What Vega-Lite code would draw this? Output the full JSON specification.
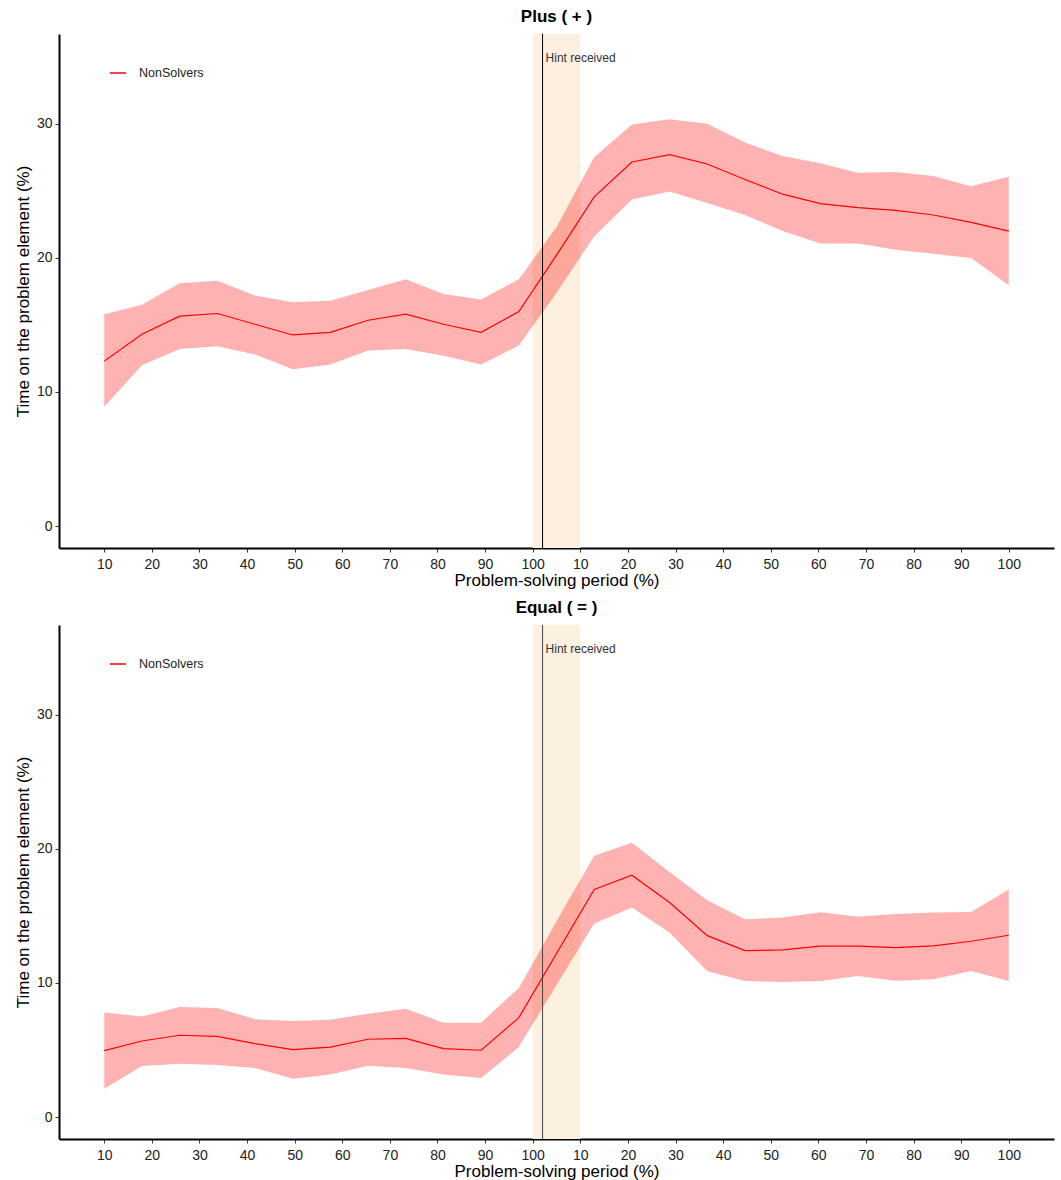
{
  "$schema": "https://vega.github.io/schema/vega-lite/v6.json",
  "padding": {"left": 14, "top": 7, "right": 5, "bottom": 2},
  "spacing": 10,
  "config": {
    "font": "Liberation Sans",
    "view": {"stroke": null},
    "title": {"fontSize": 17, "fontWeight": "bold", "color": "#000000", "offset": 8},
    "axis": {"grid": false, "domainColor": "#000000", "domainWidth": 2, "tickColor": "#333333", "tickSize": 4, "tickWidth": 1, "labelFontSize": 14, "labelColor": "#222222", "titleFontSize": 17, "titleFontWeight": "normal", "titleColor": "#000000", "labelPadding": 3},
    "axisX": {"titlePadding": 1, "labelPadding": 5},
    "axisY": {"titlePadding": 4}
  },
  "datasets": {
    "plus": [
      {"k": 1, "mean": 12.3, "lo": 8.9, "hi": 15.8},
      {"k": 2, "mean": 14.3, "lo": 12.0, "hi": 16.5},
      {"k": 3, "mean": 15.65, "lo": 13.2, "hi": 18.1},
      {"k": 4, "mean": 15.85, "lo": 13.4, "hi": 18.3},
      {"k": 5, "mean": 15.05, "lo": 12.8, "hi": 17.2},
      {"k": 6, "mean": 14.25, "lo": 11.7, "hi": 16.7},
      {"k": 7, "mean": 14.45, "lo": 12.05, "hi": 16.8},
      {"k": 8, "mean": 15.35, "lo": 13.1, "hi": 17.6},
      {"k": 9, "mean": 15.8, "lo": 13.2, "hi": 18.4},
      {"k": 10, "mean": 15.05, "lo": 12.7, "hi": 17.3},
      {"k": 11, "mean": 14.45, "lo": 12.05, "hi": 16.9},
      {"k": 12, "mean": 16.0, "lo": 13.45, "hi": 18.4},
      {"k": 13, "mean": 20.2, "lo": 17.4, "hi": 22.3},
      {"k": 14, "mean": 24.55, "lo": 21.6, "hi": 27.5},
      {"k": 15, "mean": 27.15, "lo": 24.35, "hi": 29.95},
      {"k": 16, "mean": 27.7, "lo": 24.95, "hi": 30.35},
      {"k": 17, "mean": 27.0, "lo": 24.1, "hi": 30.0},
      {"k": 18, "mean": 25.85, "lo": 23.2, "hi": 28.6},
      {"k": 19, "mean": 24.75, "lo": 22.0, "hi": 27.6},
      {"k": 20, "mean": 24.05, "lo": 21.07, "hi": 27.05},
      {"k": 21, "mean": 23.75, "lo": 21.07, "hi": 26.35},
      {"k": 22, "mean": 23.55, "lo": 20.6, "hi": 26.4},
      {"k": 23, "mean": 23.2, "lo": 20.3, "hi": 26.1},
      {"k": 24, "mean": 22.65, "lo": 20.0, "hi": 25.35},
      {"k": 25, "mean": 22.0, "lo": 17.95, "hi": 26.05}
    ],
    "equal": [
      {"k": 1, "mean": 4.95, "lo": 2.1, "hi": 7.8},
      {"k": 2, "mean": 5.67, "lo": 3.8, "hi": 7.5},
      {"k": 3, "mean": 6.1, "lo": 3.98, "hi": 8.2},
      {"k": 4, "mean": 6.02, "lo": 3.88, "hi": 8.13},
      {"k": 5, "mean": 5.47, "lo": 3.66, "hi": 7.3},
      {"k": 6, "mean": 5.02, "lo": 2.86, "hi": 7.16},
      {"k": 7, "mean": 5.22, "lo": 3.18, "hi": 7.26},
      {"k": 8, "mean": 5.8, "lo": 3.83, "hi": 7.7},
      {"k": 9, "mean": 5.87, "lo": 3.66, "hi": 8.08},
      {"k": 10, "mean": 5.1, "lo": 3.18, "hi": 7.04},
      {"k": 11, "mean": 4.98, "lo": 2.91, "hi": 7.04},
      {"k": 12, "mean": 7.41, "lo": 5.22, "hi": 9.63},
      {"k": 13, "mean": 12.2, "lo": 9.85, "hi": 14.6},
      {"k": 14, "mean": 16.97, "lo": 14.43, "hi": 19.48},
      {"k": 15, "mean": 18.03, "lo": 15.62, "hi": 20.45},
      {"k": 16, "mean": 16.0, "lo": 13.76, "hi": 18.28},
      {"k": 17, "mean": 13.53, "lo": 10.87, "hi": 16.17},
      {"k": 18, "mean": 12.41, "lo": 10.15, "hi": 14.75},
      {"k": 19, "mean": 12.46, "lo": 10.07, "hi": 14.88},
      {"k": 20, "mean": 12.74, "lo": 10.15, "hi": 15.27},
      {"k": 21, "mean": 12.74, "lo": 10.52, "hi": 14.93},
      {"k": 22, "mean": 12.64, "lo": 10.17, "hi": 15.15},
      {"k": 23, "mean": 12.76, "lo": 10.27, "hi": 15.25},
      {"k": 24, "mean": 13.11, "lo": 10.9, "hi": 15.3},
      {"k": 25, "mean": 13.56, "lo": 10.15, "hi": 16.97}
    ]
  },
  "resolve": {"scale": {"color": "independent"}, "legend": {"color": "independent"}},
  "vconcat": [
    {
      "title": "Plus ( + )",
      "width": 995,
      "height": 514,
      "layer": [
        {
          "data": {"values": [{}]},
          "mark": {"type": "rect", "color": "#FDF0DF"},
          "encoding": {
            "x": {"datum": 12.368, "type": "quantitative", "scale": {"domain": [-0.2, 26.2], "nice": false, "zero": false}, "title": "Problem-solving period (%)", "axis": {"values": [1, 2.2632, 3.5263, 4.7895, 6.0526, 7.3158, 8.5789, 9.8421, 11.1053, 12.3684, 13.6316, 14.8947, 16.1579, 17.4211, 18.6842, 19.9474, 21.2105, 22.4737, 23.7368, 25], "labelExpr": "((round((datum.value - 1) * 19 / 24) % 10) + 1) * 10"}},
            "x2": {"datum": 13.632}
          }
        },
        {
          "data": {"name": "plus"},
          "mark": {"type": "area", "color": "#FF0000", "opacity": 0.3},
          "encoding": {
            "x": {"field": "k", "type": "quantitative", "title": "Problem-solving period (%)"},
            "y": {"field": "lo", "type": "quantitative", "scale": {"domain": [-1.64, 36.7], "nice": false, "zero": false}, "title": "Time on the problem element (%)", "axis": {"values": [0, 10, 20, 30]}},
            "y2": {"field": "hi"}
          }
        },
        {
          "data": {"name": "plus"},
          "mark": {"type": "line", "strokeWidth": 1.2},
          "encoding": {
            "x": {"field": "k", "type": "quantitative", "title": "Problem-solving period (%)"},
            "y": {"field": "mean", "type": "quantitative", "title": "Time on the problem element (%)"},
            "color": {"datum": "NonSolvers", "type": "nominal", "scale": {"range": ["#FF0000"]}, "legend": {"title": null, "orient": "none", "legendX": 50, "legendY": 30, "symbolType": "stroke", "symbolSize": 256, "symbolStrokeWidth": 1.5, "labelFontSize": 12.5, "labelOffset": 12, "labelColor": "#222222"}}
          }
        },
        {
          "data": {"values": [{}]},
          "mark": {"type": "rule", "color": "#000000", "strokeWidth": 1},
          "encoding": {
            "x": {"datum": 12.63, "type": "quantitative", "title": "Problem-solving period (%)"}
          }
        },
        {
          "data": {"values": [{}]},
          "mark": {"type": "text", "text": "Hint received", "align": "left", "baseline": "middle", "dx": 3, "dy": 1, "fontSize": 12, "color": "#333333"},
          "encoding": {
            "x": {"datum": 12.63, "type": "quantitative", "title": "Problem-solving period (%)"},
            "y": {"datum": 35, "type": "quantitative", "title": "Time on the problem element (%)"}
          }
        }
      ]
    },
    {
      "title": "Equal ( = )",
      "width": 995,
      "height": 514,
      "layer": [
        {
          "data": {"values": [{}]},
          "mark": {"type": "rect", "color": "#FCF1DF"},
          "encoding": {
            "x": {"datum": 12.368, "type": "quantitative", "scale": {"domain": [-0.2, 26.2], "nice": false, "zero": false}, "title": "Problem-solving period (%)", "axis": {"values": [1, 2.2632, 3.5263, 4.7895, 6.0526, 7.3158, 8.5789, 9.8421, 11.1053, 12.3684, 13.6316, 14.8947, 16.1579, 17.4211, 18.6842, 19.9474, 21.2105, 22.4737, 23.7368, 25], "labelExpr": "((round((datum.value - 1) * 19 / 24) % 10) + 1) * 10"}},
            "x2": {"datum": 13.632}
          }
        },
        {
          "data": {"name": "equal"},
          "mark": {"type": "area", "color": "#FF0000", "opacity": 0.3},
          "encoding": {
            "x": {"field": "k", "type": "quantitative", "title": "Problem-solving period (%)"},
            "y": {"field": "lo", "type": "quantitative", "scale": {"domain": [-1.64, 36.7], "nice": false, "zero": false}, "title": "Time on the problem element (%)", "axis": {"values": [0, 10, 20, 30]}},
            "y2": {"field": "hi"}
          }
        },
        {
          "data": {"name": "equal"},
          "mark": {"type": "line", "strokeWidth": 1.2},
          "encoding": {
            "x": {"field": "k", "type": "quantitative", "title": "Problem-solving period (%)"},
            "y": {"field": "mean", "type": "quantitative", "title": "Time on the problem element (%)"},
            "color": {"datum": "NonSolvers", "type": "nominal", "scale": {"range": ["#FF0000"]}, "legend": {"title": null, "orient": "none", "legendX": 50, "legendY": 30, "symbolType": "stroke", "symbolSize": 256, "symbolStrokeWidth": 1.5, "labelFontSize": 12.5, "labelOffset": 12, "labelColor": "#222222"}}
          }
        },
        {
          "data": {"values": [{}]},
          "mark": {"type": "rule", "color": "#444444", "strokeWidth": 1},
          "encoding": {
            "x": {"datum": 12.63, "type": "quantitative", "title": "Problem-solving period (%)"}
          }
        },
        {
          "data": {"values": [{}]},
          "mark": {"type": "text", "text": "Hint received", "align": "left", "baseline": "middle", "dx": 3, "dy": 1, "fontSize": 12, "color": "#333333"},
          "encoding": {
            "x": {"datum": 12.63, "type": "quantitative", "title": "Problem-solving period (%)"},
            "y": {"datum": 35, "type": "quantitative", "title": "Time on the problem element (%)"}
          }
        }
      ]
    }
  ]
}
